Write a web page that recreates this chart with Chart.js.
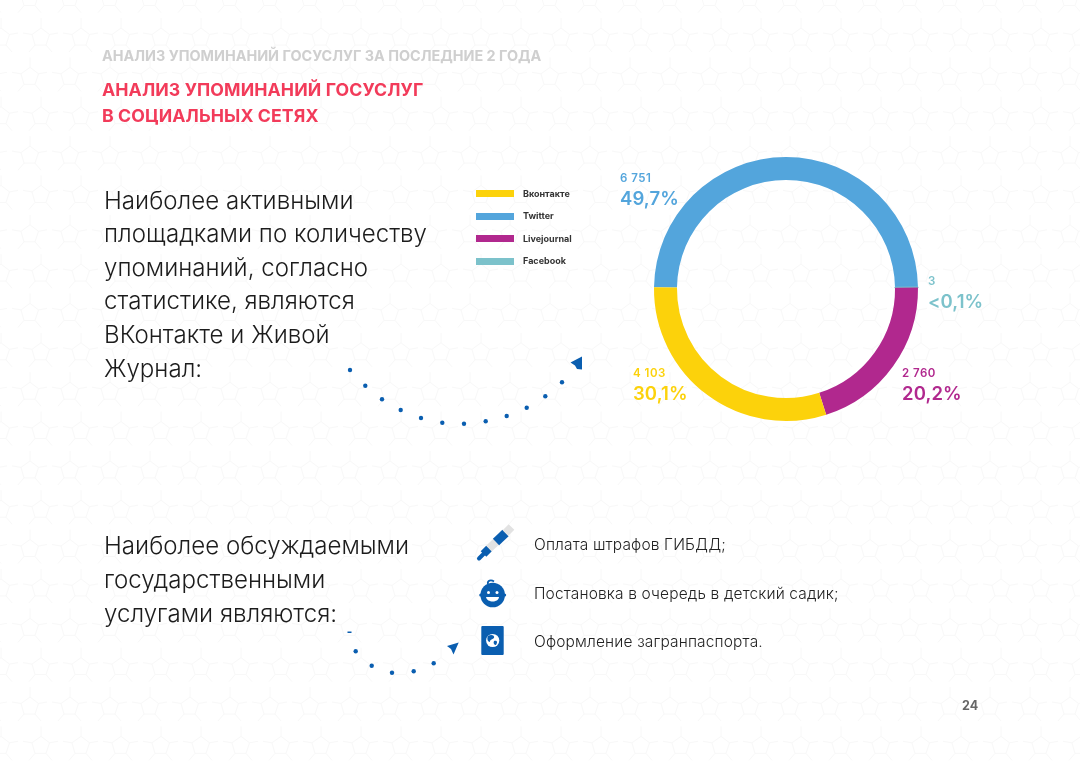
<!DOCTYPE html>
<html lang="ru">
<head>
<meta charset="utf-8">
<title>Анализ упоминаний госуслуг</title>
<script src="https://cdn.jsdelivr.net/npm/chart.js@4"></script>
<style>
  html, body { margin: 0; padding: 0; background: #fff; }
  #page { position: relative; width: 1080px; height: 763px; overflow: hidden; font-family: Inter, sans-serif; color: #222; }
  #page > * { position: absolute; }
  #bg, #marks { left: 0; top: 0; }
  #chart { left: 0; top: 0; }
  .t { white-space: nowrap; line-height: 1; }
  .kicker { left: 102px; font-size: 14.4px; font-weight: 700; color: #cfcfcf; }
  .head { left: 102px; font-size: 17.7px; font-weight: 700; color: #f23b5a; letter-spacing: .1px; }
  .lead { left: 104px; font-size: 24.1px; font-weight: 300; color: #1c1c1c; }
  .item { left: 534px; font-size: 15.5px; font-weight: 300; color: #222; letter-spacing: .15px; }
  .num { left: 962px; font-size: 12.5px; font-weight: 700; color: #666; }
  .swatch { left: 476px; width: 38px; height: 7px; }
  .leg { left: 523px; font-size: 9px; font-weight: 700; color: #333; }
  .cnt { font-size: 11.5px; font-weight: 600; letter-spacing: .5px; }
  .pct { font-size: 18.5px; font-weight: 600; letter-spacing: .1px; }
</style>
</head>
<body>
<div id="page">
  <svg id="bg" width="1080" height="763"></svg>
  <canvas id="chart" width="1080" height="763"></canvas>
  <svg id="marks" width="1080" height="763">
    <g fill="#0a5eb0">
      <rect x="347.5" y="631.5" width="4" height="1.5"/>
      <path d="M582 356.5 L570.5 362.5 L575 365.5 L577 369 L582 369.5 Z"/>
      <path d="M458.7 642.5 L447 646 L451 649 L453.5 654.5 Z"/>
    </g>
    <g id="dots" fill="#0a5eb0"></g>
    <g stroke-linecap="butt" fill="none">
      <path d="M479 558.5 L484 553.5" stroke="#0a5eb0" stroke-width="4" stroke-linecap="round"/>
      <path d="M483.5 554 L489 548.5" stroke="#0a5eb0" stroke-width="8"/>
      <path d="M489 548.5 L497 541" stroke="#e2e2e2" stroke-width="8"/>
      <path d="M496 542 L505.5 533" stroke="#0a5eb0" stroke-width="9"/>
      <path d="M505.5 533 L511.5 527" stroke="#e2e2e2" stroke-width="8"/>
    </g>
    <g>
      <circle cx="492.7" cy="595" r="12.3" fill="#0a5eb0"/>
      <circle cx="480.8" cy="595" r="1.6" fill="#0a5eb0"/>
      <circle cx="504.6" cy="595" r="1.6" fill="#0a5eb0"/>
      <path d="M488 584 C487 580.5 491 579.5 494 581.5" stroke="#0a5eb0" stroke-width="1.8" fill="none"/>
      <circle cx="488.5" cy="592.5" r="1.5" fill="#fff"/>
      <circle cx="497" cy="592.5" r="1.5" fill="#fff"/>
      <path d="M486 597 H499 C498.5 603 487 603 486 597 Z" fill="#fff"/>
    </g>
    <g>
      <rect x="481.3" y="626" width="22.4" height="29" rx="1" fill="#0a5eb0"/>
      <circle cx="492.7" cy="640.5" r="6.6" fill="#fff"/>
      <path d="M488 636 C491 634 495 635 494 638 C492 640 490 639 490 642 C488 642 486.5 639 488 636 Z M494 641 C497 640 498 642 496 645 C494 645 493 643 494 641 Z" fill="#0a5eb0"/>
    </g>
  </svg>
</div>
<script>
const platforms = ['Twitter', 'Facebook', 'Livejournal', 'Вконтакте'];
const counts = [6751, 3, 2760, 4103];
const countLabels = ['6 751', '3', '2 760', '4 103'];
const percentLabels = ['49,7%', '<0,1%', '20,2%', '30,1%'];
const colors = ['#53a5dc', '#7cc2cb', '#b1288e', '#fcd20b'];
const legendOrder = ['Вконтакте', 'Twitter', 'Livejournal', 'Facebook'];

const kicker = 'АНАЛИЗ УПОМИНАНИЙ ГОСУСЛУГ ЗА ПОСЛЕДНИЕ 2 ГОДА';
const headLines = ['АНАЛИЗ УПОМИНАНИЙ ГОСУСЛУГ', 'В СОЦИАЛЬНЫХ СЕТЯХ'];
const leadTop = ['Наиболее активными', 'площадками по количеству', 'упоминаний, согласно', 'статистике, являются', 'ВКонтакте и Живой', 'Журнал:'];
const leadBottom = ['Наиболее обсуждаемыми', 'государственными', 'услугами являются:'];
const services = ['Оплата штрафов ГИБДД;', 'Постановка в очередь в детский садик;', 'Оформление загранпаспорта.'];
const pageNumber = '24';

const page = document.getElementById('page');

function addText(cls, text, left, top, color) {
  const el = document.createElement('div');
  el.className = 't ' + cls;
  el.textContent = text;
  if (left != null) el.style.left = left + 'px';
  el.style.top = top + 'px';
  if (color) el.style.color = color;
  page.appendChild(el);
  return el;
}

addText('kicker', kicker, null, 49);
headLines.forEach((s, i) => addText('head', s, null, 81 + i * 26));
leadTop.forEach((s, i) => addText('lead', s, null, 188.5 + i * 33.6));
leadBottom.forEach((s, i) => addText('lead', s, null, 533.5 + i * 34));
services.forEach((s, i) => addText('item', s, null, 537 + i * 48.5));
addText('num', pageNumber, null, 700);

legendOrder.forEach((name, i) => {
  const sw = document.createElement('div');
  sw.className = 'swatch';
  sw.style.top = (190 + i * 22.6) + 'px';
  sw.style.background = colors[platforms.indexOf(name)];
  page.appendChild(sw);
  addText('leg', name, null, 188.5 + i * 22.6);
});

// where each value label sits, same order as platforms
const labelPos = [[620, 172.5], [928, 275.5], [902, 367.5], [633, 367.5]];
platforms.forEach((p, i) => {
  const [x, y] = labelPos[i];
  addText('cnt', countLabels[i], x, y, colors[i]);
  addText('pct', percentLabels[i], x, y + 16.5, colors[i]);
});

// faint pentagon wallpaper
(function drawBg() {
  const svg = document.getElementById('bg');
  let d = '';
  for (let r = -1; r < 21; r++) {
    const cy = 36 + r * 39.35;
    const x0 = r % 2 === 0 ? 41 : 30;
    for (let c = -1; c < 28; c++) {
      const cx = x0 + c * 40;
      const p = (x, y) => (cx + x).toFixed(1) + ' ' + (cy + y).toFixed(1);
      d += 'M' + p(0, -8) + 'L' + p(8.5, -1.5) + 'L' + p(5, 9) + 'L' + p(-6, 9) + 'L' + p(-9, -1.5) + 'Z';
      d += 'M' + p(0, -8) + 'L' + p(0, -18) + 'M' + p(8.5, -1.5) + 'L' + p(17, -3);
      d += 'M' + p(5, 9) + 'L' + p(11, 16) + 'M' + p(-6, 9) + 'L' + p(-12, 16) + 'M' + p(-9, -1.5) + 'L' + p(-18, -3);
    }
  }
  svg.innerHTML = '<path d="' + d + '" fill="none" stroke="#f8f8f8" stroke-width="1"/>';
})();

// dotted arrows
(function drawDots() {
  const pts = [[350, 370], [365.3, 385.7], [382, 399.3], [400.7, 410], [421, 418], [442.3, 422.7], [464, 423.7], [485.7, 421.3], [506.7, 416], [526.7, 407.7], [545.3, 396.3], [562, 382.3],
    [355.7, 651.3], [371.7, 665.7], [392, 672.7], [413.7, 671.3], [433.7, 663.3]];
  document.getElementById('dots').innerHTML = pts.map(p => `<circle cx="${p[0]}" cy="${p[1]}" r="2.2"/>`).join('');
})();

new Chart(document.getElementById('chart'), {
  type: 'doughnut',
  data: {
    labels: platforms,
    datasets: [{
      data: counts,
      backgroundColor: colors,
      borderColor: colors,
      borderWidth: [0, 1.5, 0, 0]
    }]
  },
  options: {
    responsive: false,
    animation: false,
    rotation: -89.25,
    cutout: '82.6%',
    layout: { padding: { left: 653.25, right: 161.25, top: 156.25, bottom: 341.25 } },
    plugins: { legend: { display: false }, tooltip: { enabled: false } }
  }
});
</script>
</body>
</html>
